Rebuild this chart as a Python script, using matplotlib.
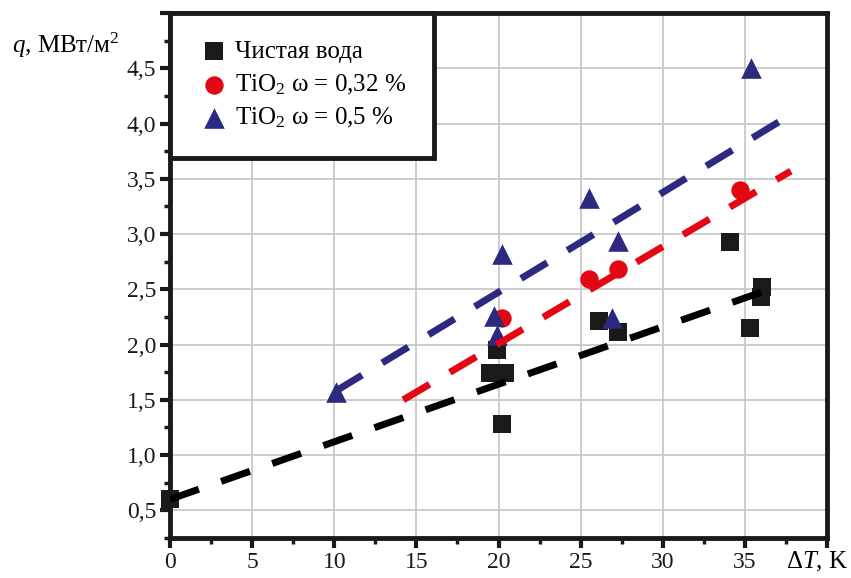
import numpy as np
import matplotlib
matplotlib.use("Agg")
import matplotlib.pyplot as plt
from matplotlib.ticker import MultipleLocator, FixedLocator

plt.rcParams['font.family'] = ['Liberation Serif', 'DejaVu Serif']
plt.rcParams['mathtext.fontset'] = 'custom'
plt.rcParams['mathtext.rm'] = 'Liberation Serif'
plt.rcParams['mathtext.it'] = 'Liberation Serif:italic'

# data
water_x = [0.0, 19.5, 20.4, 19.9, 20.2, 26.1, 27.3, 34.1, 35.3, 36.0, 36.05]
water_y = [0.60, 1.74, 1.74, 1.95, 1.28, 2.21, 2.11, 2.93, 2.15, 2.43, 2.52]

tio2_032_x = [20.2, 25.5, 27.3, 34.7]
tio2_032_y = [2.24, 2.59, 2.68, 3.40]

tio2_05_x = [10.1, 19.7, 19.9, 20.2, 25.5, 26.9, 27.3, 35.4]
tio2_05_y = [1.57, 2.26, 2.09, 2.82, 3.33, 2.24, 2.94, 4.50]

# fitted dashed lines (endpoints)
fit_water_x = [0.0, 36.5]
fit_water_y = [0.60, 2.50]
fit_032_x = [14.2, 37.8]
fit_032_y = [1.50, 3.57]
fit_05_x = [10.1, 37.9]
fit_05_y = [1.58, 4.09]

labels = ['Чистая вода', r'TiO$_2$ ω = 0,32 %', r'TiO$_2$ ω = 0,5 %']
black = '#1a1a1a'
red = '#e30613'
blue = '#2b2a80'

fig = plt.figure(figsize=(8.51, 5.78), dpi=100)
ax = fig.add_axes([170/851, 1-538/578, (827-170)/851, (538-13)/578])

s1 = ax.scatter(water_x, water_y, marker='s', s=150, color=black, zorder=3, linewidths=0, clip_on=False)
s2 = ax.scatter(tio2_032_x, tio2_032_y, marker='o', s=175, color=red, zorder=3, linewidths=0)
s3 = ax.scatter(tio2_05_x, tio2_05_y, marker='^', s=220, color=blue, zorder=3, linewidths=0)

dash = (4.4, 3.4)
ax.plot(fit_water_x, fit_water_y, color='black', lw=5, dashes=dash, zorder=4)
ax.plot(fit_032_x, fit_032_y, color=red, lw=5, dashes=dash, zorder=4)
ax.plot(fit_05_x, fit_05_y, color=blue, lw=5, dashes=dash, zorder=4)

ax.set_xlim(0, 40)
ax.set_ylim(0.25, 5.0)
ax.xaxis.set_major_locator(FixedLocator([0, 5, 10, 15, 20, 25, 30, 35, 40]))
ax.set_xticklabels(['0', '5', '10', '15', '20', '25', '30', '35', ''])
ax.xaxis.set_minor_locator(MultipleLocator(2.5))
yt = [0.5, 1.0, 1.5, 2.0, 2.5, 3.0, 3.5, 4.0, 4.5, 5.0]
ax.yaxis.set_major_locator(FixedLocator(yt))
ax.set_yticklabels([f'{v:.1f}'.replace('.', ',') for v in yt[:-1]] + [''])
ax.yaxis.set_minor_locator(MultipleLocator(0.25))

ax.grid(True, which='major', color='#c8c8c8', lw=1.3)
ax.set_axisbelow(True)
for sp in ax.spines.values():
    sp.set_linewidth(3.5)
    sp.set_color(black)
ax.tick_params(which='major', direction='out', length=7, width=3, labelsize=17, colors=black, pad=3)
ax.tick_params(which='minor', direction='out', length=4, width=2.5, colors=black)

leg = ax.legend([s1, s2, s3], labels, loc='upper left', fontsize=18, frameon=True,
                fancybox=False, framealpha=1, borderpad=1.1, labelspacing=0.38,
                handletextpad=0.2, handlelength=1.3,
                bbox_to_anchor=(0.0, 1.0), borderaxespad=0.0)
leg.get_frame().set_edgecolor(black)
leg.get_frame().set_linewidth(3.5)
leg.set_zorder(5)

fig.text(12/851, 1-45/578, r'$q$, МВт/м$^2$', fontsize=18, ha='left', va='center')
fig.text(848/851, 1-562/578, r'Δ$T$, K', fontsize=18, ha='right', va='center')

fig.savefig('out.png', dpi=100, facecolor='white')
